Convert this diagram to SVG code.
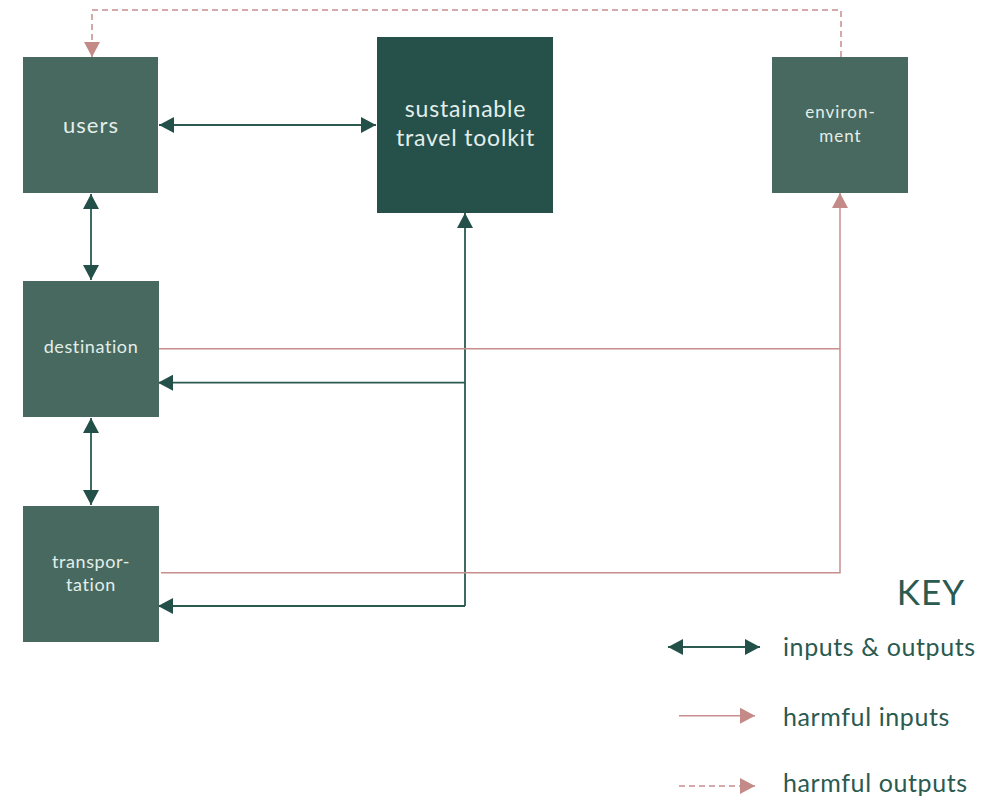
<svg xmlns="http://www.w3.org/2000/svg" width="1002" height="798" viewBox="0 0 1002 798">
<style>
.node{fill:#47695F}
.tk{fill:#26504A}
.nt{fill:#E3EEEA;font-family:Lato,"Open Sans",sans-serif;text-anchor:middle}
.g{fill:none;stroke:#2A5A50;stroke-width:1.8}
.r{fill:none;stroke:#C88D8D;stroke-width:1.5}
.d{fill:none;stroke:#C88D8D;stroke-width:1.5;stroke-dasharray:6 4}
.kt{fill:#2B5A50;font-family:Lato,"Open Sans",sans-serif}
</style>
<defs>
<marker id="ag" markerUnits="userSpaceOnUse" markerWidth="16" markerHeight="16" refX="15" refY="8" orient="auto-start-reverse" viewBox="0 0 16 16"><path d="M0,0 L15,8 L0,16 Z" fill="#24504A"/></marker>
<marker id="ar" markerUnits="userSpaceOnUse" markerWidth="16" markerHeight="16" refX="15" refY="8" orient="auto" viewBox="0 0 16 16"><path d="M0,0 L15,8 L0,16 Z" fill="#C38A88"/></marker>
</defs>
<rect width="1002" height="798" fill="#FFFFFF"/>
<g id="connectors">
<path class="d" d="M841,57 V10 H92 V57" marker-end="url(#ar)"/>
<path class="g" d="M159,125 H376" marker-start="url(#ag)" marker-end="url(#ag)"/>
<path class="g" d="M91,194 V280" marker-start="url(#ag)" marker-end="url(#ag)"/>
<path class="g" d="M91,418 V505" marker-start="url(#ag)" marker-end="url(#ag)"/>
<path class="g" d="M465,213 V606" marker-start="url(#ag)"/>
<path class="g" d="M465,382.7 H158" marker-end="url(#ag)"/>
<path class="g" d="M465,606 H158" marker-end="url(#ag)"/>
<path class="r" d="M159,348.7 H840"/>
<path class="r" d="M161,572.7 H840 V193" marker-end="url(#ar)"/>
</g>
<g id="users"><rect class="node" x="23" y="57" width="135" height="136"/><text class="nt" x="91" y="132.5" font-size="22" letter-spacing="1">users</text></g>
<g id="toolkit"><rect class="tk" x="377" y="37" width="176" height="176"/><text class="nt" x="465.5" y="117" font-size="23" letter-spacing="0.8">sustainable</text><text class="nt" x="465.5" y="146" font-size="23" letter-spacing="0.8">travel toolkit</text></g>
<g id="environment"><rect class="node" x="772" y="57" width="136" height="136"/><text class="nt" x="840.5" y="118" font-size="17" letter-spacing="1">environ-</text><text class="nt" x="840.5" y="142" font-size="17" letter-spacing="1">ment</text></g>
<g id="destination"><rect class="node" x="23" y="281" width="136" height="136"/><text class="nt" x="91" y="353" font-size="18" letter-spacing="0.6">destination</text></g>
<g id="transportation"><rect class="node" x="23" y="506" width="136" height="136"/><text class="nt" x="91" y="568" font-size="18" letter-spacing="0.6">transpor-</text><text class="nt" x="91" y="591" font-size="18" letter-spacing="0.6">tation</text></g>
<g id="key">
<text class="kt" x="965" y="605" font-size="35" letter-spacing="1" text-anchor="end">KEY</text>
<path class="g" d="M668,647 H760" marker-start="url(#ag)" marker-end="url(#ag)"/>
<text class="kt" x="783" y="656" font-size="25" letter-spacing="0.6">inputs &amp; outputs</text>
<path class="r" d="M679,715.7 H755" marker-end="url(#ar)"/>
<text class="kt" x="783" y="725.5" font-size="25" letter-spacing="0.6">harmful inputs</text>
<path class="d" d="M679,786 H755" marker-end="url(#ar)"/>
<text class="kt" x="783" y="792" font-size="25" letter-spacing="0.6">harmful outputs</text>
</g>
</svg>
